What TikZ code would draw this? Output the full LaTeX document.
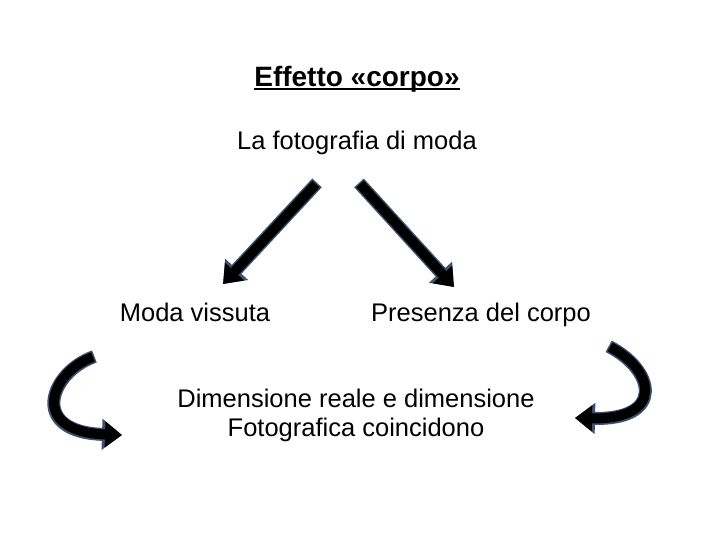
\documentclass[tikz,border=0pt]{standalone}
\usepackage{fontspec}
\setmainfont{Liberation Sans}
\usetikzlibrary{positioning, arrows.meta}

\definecolor{edgeblue}{RGB}{60,82,112}

\begin{document}
\begin{tikzpicture}[
    x=1pt, y=-1pt,
    node distance=2pt and 86pt,
    heading/.style = {font=\bfseries\fontsize{28}{30}\selectfont, inner sep=0pt, anchor=base},
    caption/.style = {font=\fontsize{25.5}{28.5}\selectfont, align=center, inner sep=0pt, anchor=base},
    blockarrow/.style = {line width=10pt, black, -{Triangle[length=17pt,width=25pt]},
        preaction={draw=edgeblue, line width=13pt, shorten <=-1.5pt, -{Triangle[length=20pt,width=30pt]}}}
]
\useasboundingbox (0,0) rectangle (720,540);

% Title and the main subject
\node[heading] (title) at (357,87) {Effetto «corpo»};
\draw[line width=2pt] ([yshift=-2.5pt]title.base west) -- ([yshift=-2.5pt]title.base east);
\node[caption] (photo) at (357,150) {La fotografia di moda};

% The two branches
\node[caption] (lived) at (195,321) {Moda vissuta};
\node[caption] (body) at (481,321) {Presenza del corpo};

% Conclusion
\node[caption, anchor=north] (same) at (356,389) {Dimensione reale e dimensione\\Fotografica coincidono};

% Arrow ends
\coordinate (lefttail) at (316,184);
\coordinate (lefttip) at (223,284);
\coordinate (righttail) at (360,184);
\coordinate (righttip) at (454,287);

% Straight arrows
\draw[blockarrow] (lefttail) -- (lefttip);
\draw[blockarrow] (righttail) -- (righttip);

% Curved arrows
\coordinate (lcurvetail) at (93,357);
\coordinate (lcurvetip) at (122,435);
\coordinate (rcurvetail) at (610,347);
\coordinate (rcurvetip) at (575,418);
\draw[blockarrow] (lcurvetail) .. controls (50,372) and (28,432) .. (lcurvetip);
\draw[blockarrow] (rcurvetail) .. controls (655,370) and (665,420) .. (rcurvetip);

\end{tikzpicture}
\end{document}
